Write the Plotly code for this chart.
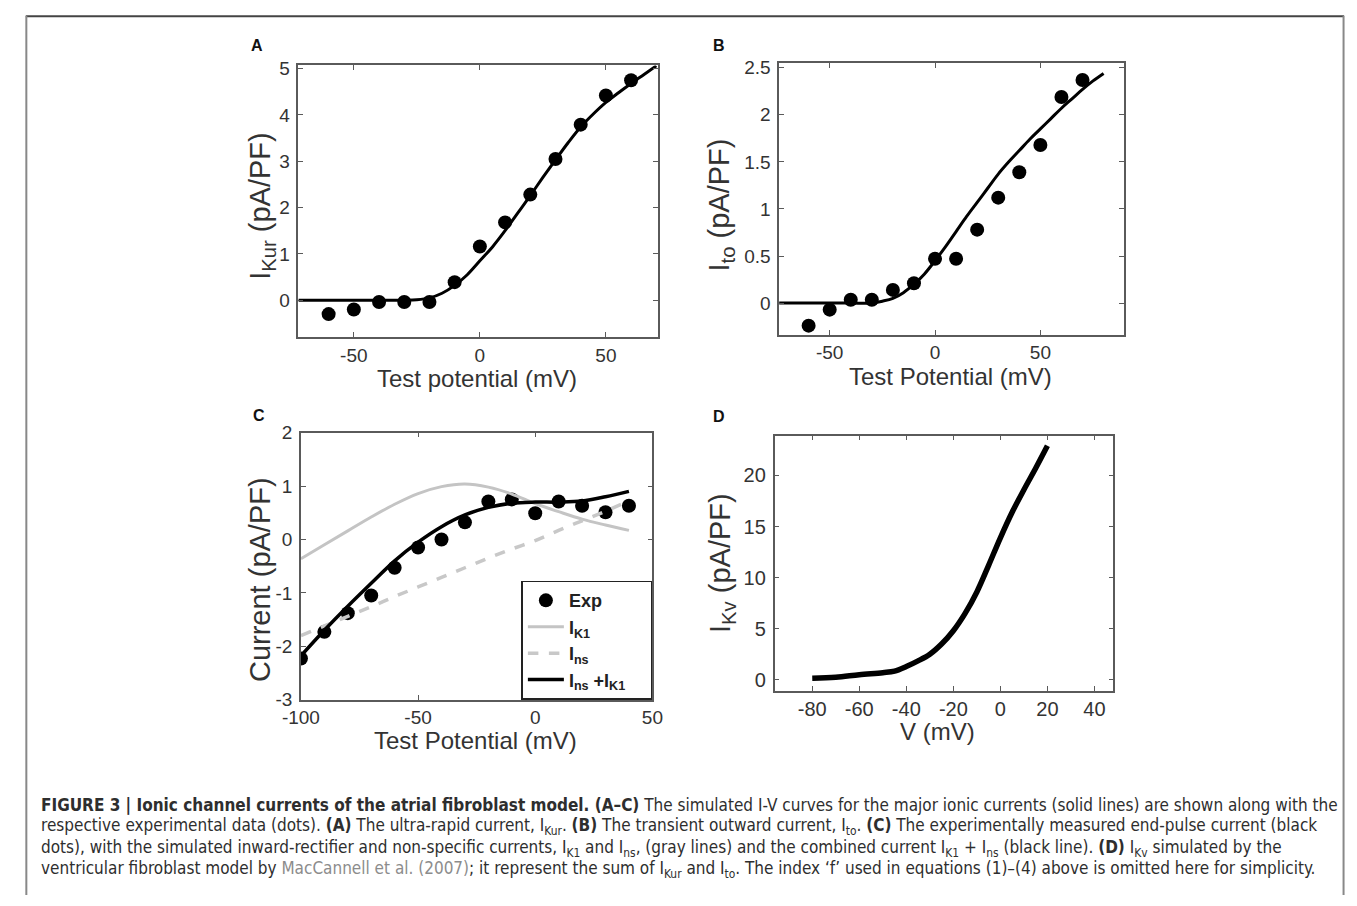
import plotly.graph_objects as go

W, H = 1357, 906

# ---------------- data ----------------
# Panel A: I_Kur
a_exp_v = [-60, -50, -40, -30, -20, -10, 0, 10, 20, 30, 40, 50, 60]
a_exp_i = [-0.30, -0.20, -0.04, -0.04, -0.04, 0.39, 1.16, 1.68, 2.28, 3.05, 3.79, 4.42, 4.75]
a_sim_v = [-72, -60, -50, -40, -30, -25, -20, -15, -10, -5, 0, 5, 10, 15, 20, 25, 30, 35, 40, 45, 50, 55, 60, 65, 70]
a_sim_i = [0, 0, 0, 0, 0, 0.01, 0.05, 0.15, 0.32, 0.55, 0.85, 1.15, 1.50, 1.88, 2.26, 2.65, 3.03, 3.40, 3.74, 4.02, 4.27, 4.48, 4.68, 4.87, 5.06]

# Panel B: I_to
b_exp_v = [-60, -50, -40, -30, -20, -10, 0, 10, 20, 30, 40, 50, 60, 70]
b_exp_i = [-0.24, -0.07, 0.035, 0.035, 0.14, 0.21, 0.47, 0.47, 0.78, 1.12, 1.39, 1.68, 2.19, 2.37]
b_sim_v = [-74, -60, -50, -40, -30, -25, -20, -15, -10, -5, 0, 5, 10, 15, 20, 25, 30, 35, 40, 45, 50, 55, 60, 65, 70, 75, 80]
b_sim_i = [0, 0, 0, 0, 0, 0.02, 0.05, 0.11, 0.20, 0.31, 0.45, 0.60, 0.76, 0.92, 1.07, 1.22, 1.37, 1.50, 1.62, 1.74, 1.85, 1.96, 2.07, 2.17, 2.27, 2.36, 2.44]

# Panel C: end-pulse current
c_exp_v = [-100, -90, -80, -70, -60, -50, -40, -30, -20, -10, 0, 10, 20, 30, 40]
c_exp_i = [-2.23, -1.73, -1.38, -1.05, -0.53, -0.15, 0.0, 0.32, 0.71, 0.75, 0.49, 0.71, 0.63, 0.51, 0.63]
c_v = [-100, -90, -80, -70, -60, -50, -40, -30, -20, -10, 0, 10, 20, 30, 40]
c_ik1 = [-0.36, -0.10, 0.16, 0.42, 0.66, 0.86, 0.99, 1.04, 0.98, 0.85, 0.67, 0.52, 0.38, 0.27, 0.17]
c_ins = [-1.80, -1.62, -1.44, -1.26, -1.07, -0.89, -0.71, -0.53, -0.35, -0.18, -0.02, 0.17, 0.35, 0.53, 0.72]
c_sum = [-2.18, -1.70, -1.25, -0.82, -0.40, -0.05, 0.24, 0.46, 0.60, 0.68, 0.70, 0.70, 0.72, 0.80, 0.90]

# Panel D: I_Kv
d_v = [-80, -70, -60, -50, -45, -40, -35, -30, -25, -20, -15, -10, -5, 0, 5, 10, 15, 20]
d_i = [0.15, 0.25, 0.50, 0.70, 0.85, 1.30, 1.85, 2.50, 3.50, 4.80, 6.50, 8.60, 11.2, 13.9, 16.4, 18.6, 20.7, 22.9]

# tick values / labels
a_xticks = [-50, 0, 50]
a_xlabels = ["-50", "0", "50"]
a_yticks = [0, 1, 2, 3, 4, 5]
b_xticks = [-50, 0, 50]
b_xlabels = ["-50", "0", "50"]
b_yticks = [0, 0.5, 1, 1.5, 2, 2.5]
b_ylabels = ["0", "0.5", "1", "1.5", "2", "2.5"]
c_xticks = [-100, -50, 0, 50]
c_xlabels = ["-100", "-50", "0", "50"]
c_yticks = [-3, -2, -1, 0, 1, 2]
c_ylabels = ["-3", "-2", "-1", "0", "1", "2"]
d_xticks = [-80, -60, -40, -20, 0, 20, 40]
d_xlabels = ["-80", "-60", "-40", "-20", "0", "20", "40"]
d_yticks = [0, 5, 10, 15, 20]

# ---------------- layout helpers ----------------
def px_x(x):
    return x / W

def px_y(y):
    return 1 - y / H

FONT = "Liberation Sans, Arial, Helvetica, sans-serif"
CAPFONT = "Liberation Sans Narrow, DejaVu Sans Condensed, Arial Narrow, sans-serif"
AXC = "#5a5a5a"
TXT = "#333333"

fig = go.Figure()

# Panel A
fig.add_trace(go.Scatter(x=a_sim_v, y=a_sim_i, mode="lines", line=dict(color="black", width=3, shape="spline"),
                         xaxis="x", yaxis="y", showlegend=False))
fig.add_trace(go.Scatter(x=a_exp_v, y=a_exp_i, mode="markers", marker=dict(color="black", size=14),
                         xaxis="x", yaxis="y", showlegend=False))
# Panel B
fig.add_trace(go.Scatter(x=b_sim_v, y=b_sim_i, mode="lines", line=dict(color="black", width=3, shape="spline"),
                         xaxis="x2", yaxis="y2", showlegend=False))
fig.add_trace(go.Scatter(x=b_exp_v, y=b_exp_i, mode="markers", marker=dict(color="black", size=14),
                         xaxis="x2", yaxis="y2", showlegend=False))
# Panel C
fig.add_trace(go.Scatter(x=c_exp_v, y=c_exp_i, mode="markers", marker=dict(color="black", size=14),
                         xaxis="x3", yaxis="y3", name="<b>Exp</b>"))
fig.add_trace(go.Scatter(x=c_v, y=c_ik1, mode="lines", line=dict(color="#c4c4c4", width=3, shape="spline"),
                         xaxis="x3", yaxis="y3", name="<b>I<sub>K1</sub></b>"))
fig.add_trace(go.Scatter(x=c_v, y=c_ins, mode="lines", line=dict(color="#c8c8c8", width=3.5, dash="dash", shape="spline"),
                         xaxis="x3", yaxis="y3", name="<b>I<sub>ns</sub></b>"))
fig.add_trace(go.Scatter(x=c_v, y=c_sum, mode="lines", line=dict(color="black", width=3.5, shape="spline"),
                         xaxis="x3", yaxis="y3", name="<b>I<sub>ns</sub> +I<sub>K1</sub></b>&nbsp;&nbsp;&nbsp;&nbsp;"))
# Panel D
fig.add_trace(go.Scatter(x=d_v, y=d_i, mode="lines", line=dict(color="black", width=5.5, shape="spline"),
                         xaxis="x4", yaxis="y4", showlegend=False))

def axis(domain, rng, ticks, size, anchor, ticktext=None, standoff=0):
    d = dict(domain=domain, range=rng, tickvals=ticks, anchor=anchor,
             showline=True, linecolor=AXC, linewidth=1.5, mirror="ticks",
             ticks="inside", ticklen=5, tickcolor=AXC, tickwidth=1.2,
             showgrid=False, zeroline=False, ticklabelstandoff=standoff,
             tickfont=dict(family=FONT, size=size, color=TXT))
    if ticktext is not None:
        d["ticktext"] = ticktext
    return d

fig.update_layout(
    width=W, height=H, autosize=False,
    margin=dict(l=0, r=0, t=0, b=0),
    paper_bgcolor="white", plot_bgcolor="white",
    xaxis=axis([px_x(285.7), px_x(653)], [-72, 70.5], a_xticks, 19, "y", a_xlabels),
    yaxis=axis([px_y(335), px_y(56.7)], [-0.8, 5.07], a_yticks, 19, "x", standoff=3),
    xaxis2=axis([px_x(777.3), px_x(1130)], [-74, 89.7], b_xticks, 19, "y2", b_xlabels),
    yaxis2=axis([px_y(332.3), px_y(54.3)], [-0.335, 2.55], b_yticks, 19, "x2", b_ylabels, standoff=3),
    xaxis3=axis([px_x(288.3), px_x(647.7)], [-100, 50], c_xticks, 19, "y3", c_xlabels),
    yaxis3=axis([px_y(706), px_y(432.7)], [-3, 2], c_yticks, 19, "x3", c_ylabels, standoff=3),
    xaxis4=axis([px_x(772.7), px_x(1119)], [-96, 48], d_xticks, 20, "y4", d_xlabels),
    yaxis4=axis([px_y(696.7), px_y(435.7)], [-1.05, 23.9], d_yticks, 20, "x4", standoff=3),
    legend=dict(x=px_x(647.7), y=px_y(706), xanchor="right", yanchor="bottom",
                bgcolor="white", bordercolor="#222222", borderwidth=1.5,
                font=dict(family=FONT, size=18, color="#222222"),
                itemwidth=36, tracegroupgap=0),
)

ann = []
def text(x, y, s, size, angle=0, bold=False, color=TXT, family=FONT, xanchor="center"):
    ann.append(dict(x=px_x(x), y=px_y(y), xref="paper", yref="paper", text=("<b>%s</b>" % s) if bold else s,
                    showarrow=False, textangle=angle, xanchor=xanchor, yanchor="middle",
                    font=dict(family=family, size=size, color=color)))

# panel letters
text(243, 36, "A", 16, bold=True, color="#111111")
text(716, 36, "B", 16, bold=True, color="#111111")
text(245, 415, "C", 16, bold=True, color="#111111")
text(716, 416, "D", 16, bold=True, color="#111111")

# axis titles
text(468, 377, "Test potential (mV)", 24)
text(249, 200, "I<sub>Kur</sub> (pA/PF)", 29, angle=-90)
text(953, 375, "Test Potential (mV)", 24)
text(718, 200, "I<sub>to</sub> (pA/PF)", 29, angle=-90)
text(467, 748, "Test Potential (mV)", 24)
text(247, 583, "Current (pA/PF)", 29, angle=-90)
text(939, 739, "V (mV)", 24)
text(719, 566, "I<sub>Kv</sub> (pA/PF)", 29, angle=-90)

# caption
cap = [
    "<b>FIGURE 3 | Ionic channel currents of the atrial fibroblast model. (A–C)</b> The simulated I-V curves for the major ionic currents (solid lines) are shown along with the",
    "respective experimental data (dots). <b>(A)</b> The ultra-rapid current, I<sub>Kur</sub>. <b>(B)</b> The transient outward current, I<sub>to</sub>. <b>(C)</b> The experimentally measured end-pulse current (black",
    "dots), with the simulated inward-rectifier and non-specific currents, I<sub>K1</sub> and I<sub>ns</sub>, (gray lines) and the combined current I<sub>K1</sub> + I<sub>ns</sub> (black line). <b>(D)</b> I<sub>Kv</sub> simulated by the",
    "ventricular fibroblast model by <span style='color:#8c8c8c'>MacCannell et al. (2007)</span>; it represent the sum of I<sub>Kur</sub> and I<sub>to</sub>. The index ‘f’ used in equations (1)–(4) above is omitted here for simplicity.",
]
cap_y = [814, 836, 858, 880]
for s, yy in zip(cap, cap_y):
    text(20, yy, s, 17, color="#2e2e2e", family=CAPFONT, xanchor="left")

fig.update_layout(annotations=ann)

# outer frame
fig.update_layout(shapes=[
    dict(type="line", xref="paper", yref="paper", x0=px_x(7), x1=px_x(1355), y0=px_y(6.5), y1=px_y(6.5),
         line=dict(color="#444444", width=2)),
    dict(type="line", xref="paper", yref="paper", x0=px_x(7.5), x1=px_x(7.5), y0=px_y(6), y1=0,
         line=dict(color="#888888", width=2)),
    dict(type="line", xref="paper", yref="paper", x0=px_x(1354.5), x1=px_x(1354.5), y0=px_y(6), y1=0,
         line=dict(color="#888888", width=2)),
])

fig.write_html(
    "out.html",
    post_script="document.documentElement.style.margin='0';document.body.style.margin='0';"
                "document.body.style.padding='0';document.body.style.overflow='hidden';"
                "document.documentElement.style.overflow='hidden';",
)
